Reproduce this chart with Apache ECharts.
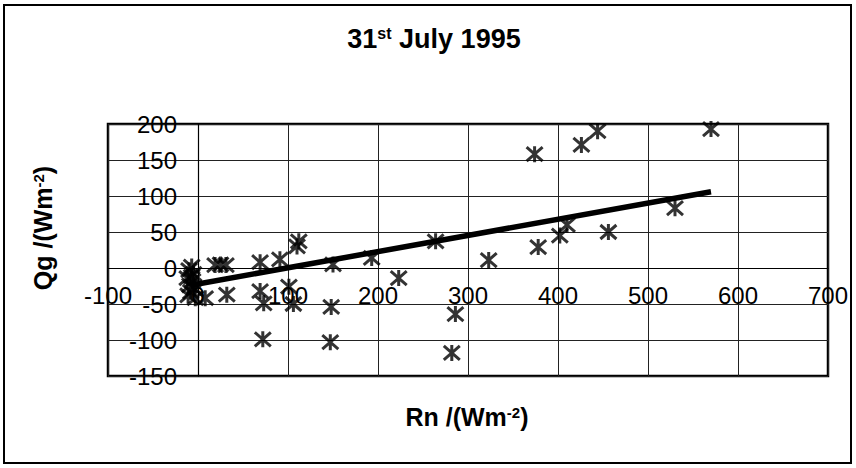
<!DOCTYPE html>
<html>
<head>
<meta charset="utf-8">
<script src="https://cdn.jsdelivr.net/npm/echarts@6/dist/echarts.min.js"></script>
<style>
html,body{margin:0;padding:0;background:#fff;}
#chart{width:856px;height:468px;}
</style>
</head>
<body>
<div id="chart"></div>
<script>
// Scatter observations (Rn, Qg) in W m-2
var rnValues = [-10, -7, -5, -12, -6, -9, -4, -8, -11, -3, -7, 8, 32, 19, 25, 31, 69, 91, 110, 112, 150, 69, 73, 72, 101, 106, 148, 147, 193, 223, 264, 323, 282, 286, 374, 378, 402, 410, 426, 444, 456, 530, 570];
var qgValues = [-3, 2, -8, -14, -18, -24, -28, -33, -38, -42, -12, -42, -37, 4, 5, 4, 8, 12, 30, 37, 5, -32, -49, -99, -26, -50, -54, -103, 14, -14, 37, 11, -118, -64, 158, 29, 45, 60, 171, 190, 50, 83, 193];
// Fitted regression line end points
var fitRn = [-8, 570];
var fitQg = [-24, 106];
// Axis settings
var xMin = -100, xMax = 700, xStep = 100;
var yMin = -150, yMax = 200, yStep = 50;

var FONT = "'Liberation Sans', Arial, sans-serif";
var scatterData = rnValues.map(function (x, i) { return [x, qgValues[i]]; });
var fitData = fitRn.map(function (x, i) { return [x, fitQg[i]]; });

var W = 856, H = 468;
var G = {left: 108, right: 28, top: 124, bottom: 92};
var plotW = W - G.left - G.right, plotH = H - G.top - G.bottom;
// axes cross at zero of the other axis (as in the original spreadsheet chart)
var xAxisOffset = -((0 - yMin) / (yMax - yMin)) * plotH;
var yAxisOffset = -((0 - xMin) / (xMax - xMin)) * plotW;

var chart = echarts.init(document.getElementById('chart'), null, {renderer: 'svg'});
chart.setOption({
  backgroundColor: '#fff',
  animation: false,
  grid: {left: G.left, right: G.right, top: G.top, bottom: G.bottom, show: true, borderColor: '#000', borderWidth: 2.5, backgroundColor: 'transparent'},
  xAxis: {
    type: 'value', min: xMin, max: xMax, interval: xStep, position: 'bottom', offset: xAxisOffset,
    axisLine: {onZero: false, lineStyle: {color: '#000', width: 1.2}},
    axisTick: {show: false},
    axisLabel: {color: '#000', fontFamily: FONT, fontSize: 24, margin: 15},
    splitLine: {show: true, lineStyle: {color: '#222', width: 1}}
  },
  yAxis: {
    type: 'value', min: yMin, max: yMax, interval: yStep, position: 'left', offset: yAxisOffset,
    axisLine: {onZero: false, lineStyle: {color: '#000', width: 1.2}},
    axisTick: {show: false},
    axisLabel: {color: '#000', fontFamily: FONT, fontSize: 24, margin: 21, padding: [0, 0, 6, 0]},
    splitLine: {show: true, lineStyle: {color: '#222', width: 1}}
  },
  graphic: [
    {type: 'rect', shape: {x: 4, y: 5, width: 847, height: 458}, style: {fill: 'none', stroke: '#000', lineWidth: 2}, z: -1},
    {type: 'text', x: 434, y: 39, style: {
      text: '{a|31}{s|st}{a| July 1995}', align: 'center', verticalAlign: 'middle',
      rich: {a: {fontFamily: FONT, fontSize: 27, fontWeight: 'bold', fill: '#000'}, s: {fontFamily: FONT, fontSize: 16, fontWeight: 'bold', fill: '#000', verticalAlign: 'top'}}
    }},
    {type: 'text', x: 467, y: 417, style: {
      text: '{a|Rn /(Wm}{s|-2}{a|)}', align: 'center', verticalAlign: 'middle',
      rich: {a: {fontFamily: FONT, fontSize: 25, fontWeight: 'bold', fill: '#000'}, s: {fontFamily: FONT, fontSize: 15, fontWeight: 'bold', fill: '#000', verticalAlign: 'top'}}
    }},
    {type: 'text', x: 43, y: 228, rotation: Math.PI / 2, style: {
      text: '{a|Qg /(Wm}{s|-2}{a|)}', align: 'center', verticalAlign: 'middle',
      rich: {a: {fontFamily: FONT, fontSize: 25, fontWeight: 'bold', fill: '#000'}, s: {fontFamily: FONT, fontSize: 15, fontWeight: 'bold', fill: '#000', verticalAlign: 'top'}}
    }}
  ],
  series: [
    {
      type: 'line', data: fitData, symbol: 'none', z: 3,
      lineStyle: {color: '#000', width: 5.5}
    },
    {
      type: 'scatter', data: scatterData, z: 4,
      symbol: 'path://M1,1L15,15M15,1L1,15M8,0L8,16',
      symbolSize: 16,
      itemStyle: {color: '#000', borderColor: '#000', borderWidth: 3}
    }
  ]
});
</script>
</body>
</html>
